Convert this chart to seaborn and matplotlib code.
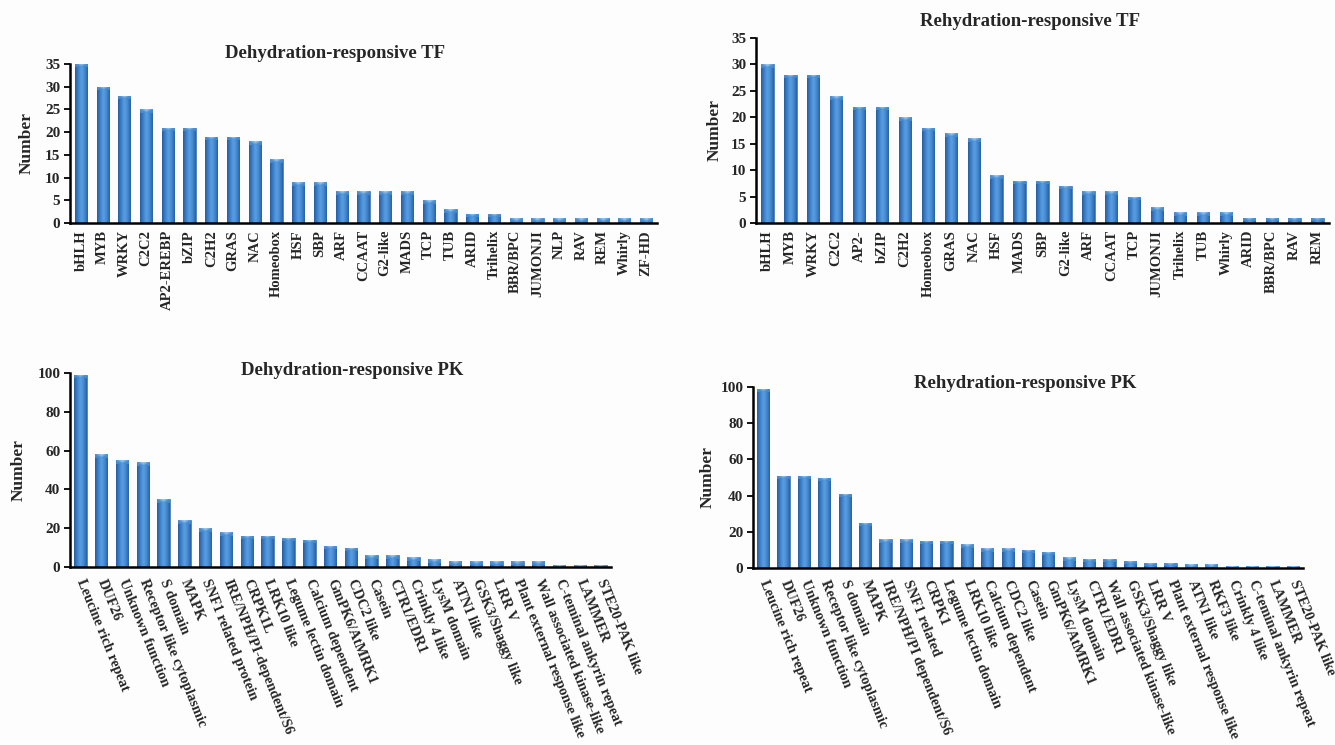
import numpy as np
import matplotlib
matplotlib.use("Agg")
import matplotlib.pyplot as plt
from matplotlib.colors import LinearSegmentedColormap
import seaborn as sns

# ---- data -------------------------------------------------------------
dehy_tf_names = ["bHLH", "MYB", "WRKY", "C2C2", "AP2-EREBP", "bZIP", "C2H2", "GRAS",
                 "NAC", "Homeobox", "HSF", "SBP", "ARF", "CCAAT", "G2-like", "MADS",
                 "TCP", "TUB", "ARID", "Trihelix", "BBR/BPC", "JUMONJI", "NLP", "RAV",
                 "REM", "Whirly", "ZF-HD"]
dehy_tf_counts = [35, 30, 28, 25, 21, 21, 19, 19, 18, 14, 9, 9, 7, 7, 7, 7,
                  5, 3, 2, 2, 1, 1, 1, 1, 1, 1, 1]

rehy_tf_names = ["bHLH", "MYB", "WRKY", "C2C2", "AP2-", "bZIP", "C2H2", "Homeobox",
                 "GRAS", "NAC", "HSF", "MADS", "SBP", "G2-like", "ARF", "CCAAT", "TCP",
                 "JUMONJI", "Trihelix", "TUB", "Whirly", "ARID", "BBR/BPC", "RAV", "REM"]
rehy_tf_counts = [30, 28, 28, 24, 22, 22, 20, 18, 17, 16, 9, 8, 8, 7, 6, 6, 5,
                  3, 2, 2, 2, 1, 1, 1, 1]

dehy_pk_names = ["Leucine rich repeat", "DUF26", "Unknown function",
                 "Receptor like cytoplasmic", "S domain", "MAPK", "SNF1 related protein",
                 "IRE/NPH/PI-dependent/S6", "CRPK1L", "LRK10 like", "Legume lectin domain",
                 "Calcium dependent", "GmPK6/AtMRK1", "CDC2 like", "Casein", "CTR1/EDR1",
                 "Crinkly 4 like", "LysM domain", "ATN1 like", "GSK3/Shaggy like", "LRR V",
                 "Plant external response like", "Wall associated kinase-like",
                 "C-teminal ankyrin repeat", "LAMMER", "STE20-PAK like"]
dehy_pk_counts = [99, 58, 55, 54, 35, 24, 20, 18, 16, 16, 15, 14, 11, 10, 6, 6,
                  5, 4, 3, 3, 3, 3, 3, 1, 1, 1]

rehy_pk_names = ["Leucine rich repeat", "DUF26", "Unknown function",
                 "Receptor like cytoplasmic", "S domain", "MAPK",
                 "IRE/NPH/PI dependent/S6", "SNF1 related", "CRPK1", "Legume lectin domain",
                 "LRK10 like", "Calcium dependent", "CDC2 like", "Casein", "GmPK6/AtMRK1",
                 "LysM domain", "CTR1/EDR1", "Wall associated kinase-like",
                 "GSK3/Shaggy like", "LRR V", "Plant external response like", "ATN1 like",
                 "RKF3 like", "Crinkly 4 like", "C-teminal ankyrin repeat", "LAMMER",
                 "STE20-PAK like"]
rehy_pk_counts = [99, 51, 51, 50, 41, 25, 16, 16, 15, 15, 13, 11, 11, 10, 9, 6, 5, 5,
                  4, 3, 3, 2, 2, 1, 1, 1, 1]

# ---- style ------------------------------------------------------------
sns.set_theme(style="white")
plt.rcParams["font.family"] = ["Liberation Serif", "DejaVu Serif"]
plt.rcParams["font.weight"] = "bold"

W, H = 1335, 745
fig = plt.figure(figsize=(W / 100, H / 100), dpi=100)
fig.patch.set_facecolor("#fdfdfd")

bar_cmap = LinearSegmentedColormap.from_list(
    "cyl", ["#265d9d", "#3d81c9", "#5ba0e3", "#4489cf", "#295fa2"])
cap_cmap = LinearSegmentedColormap.from_list("cap", ["#4489cf", "#a3d3f6"])


def px_axes(left, right, top, bottom):
    return fig.add_axes([left / W, 1 - bottom / H, (right - left) / W, (bottom - top) / H])


def shade_bars(ax, ymax):
    """Paint each bar with a cylinder-like horizontal gradient and a light top cap."""
    grad = np.linspace(0, 1, 64)[None, :]
    ax_h_px = ax.get_window_extent().height
    cap = 3.5 * ymax / ax_h_px
    for p in list(ax.patches):
        x0, y0 = p.get_x(), p.get_y()
        x1, y1 = x0 + p.get_width(), y0 + p.get_height()
        im = ax.imshow(grad, extent=[x0, x1, y0, y1], aspect="auto", cmap=bar_cmap,
                       origin="lower", zorder=p.get_zorder() + 0.1, interpolation="bicubic")
        im.set_clip_path(p)
        xs = np.linspace(-1, 1, 32)
        yy = np.linspace(0, 1, 8)[:, None]
        v = np.clip(1 - np.abs(xs)[None, :] * 0.9 - (1 - yy) * 0.8, 0, 1)
        cbot = max(y0, y1 - cap)
        im2 = ax.imshow(v, extent=[x0, x1, cbot, y1], aspect="auto", cmap=cap_cmap,
                        origin="lower", zorder=p.get_zorder() + 0.2, interpolation="bicubic")
        im2.set_clip_path(p)


def panel(box, names, counts, ymax, ystep, rot, bar_w, title, title_xy, ylab_x):
    ax = px_axes(*box)
    ax.set_facecolor("none")
    sns.barplot(x=names, y=counts, ax=ax, color="#3f82c9", width=bar_w,
                edgecolor="#2a5f9e", linewidth=0.4, saturation=1)
    ax.set_xlim(-0.5, len(names) - 0.5)
    ax.set_ylim(0, ymax)
    shade_bars(ax, ymax)
    ax.set_xlim(-0.5, len(names) - 0.5)
    ax.set_ylim(0, ymax)
    ax.set_yticks(np.arange(0, ymax + 0.1, ystep))
    ax.tick_params(axis="y", direction="out", length=4, width=1.3, color="black",
                   labelsize=11, pad=3, left=True)
    ax.tick_params(axis="x", length=0, pad=5)
    for lbl in ax.get_yticklabels():
        lbl.set_fontweight("bold")
    ax.set_xticks(range(len(names)))
    if rot == 90:
        ax.set_xticklabels(names, rotation=90, fontsize=10.5, fontweight="bold",
                           ha="center", va="top")
    else:
        ax.set_xticklabels(names, rotation=rot, fontsize=10.4, fontweight="bold",
                           ha="left", va="center", rotation_mode="anchor")
        ax.tick_params(axis="x", pad=9)
    for side in ("top", "right"):
        ax.spines[side].set_visible(False)
    for side in ("left", "bottom"):
        ax.spines[side].set_visible(True)
        ax.spines[side].set_color("black")
        ax.spines[side].set_linewidth(1.8)
    ax.set_xlabel("")
    ax.set_ylabel("")
    # panel title and axis label
    fig.text(title_xy[0] / W, 1 - title_xy[1] / H, title, ha="center", va="center",
             fontsize=13.5, fontweight="bold")
    bb = ax.get_position()
    fig.text(ylab_x / W, (bb.y0 + bb.y1) / 2, "Number", rotation=90, ha="center",
             va="center", fontsize=12.5, fontweight="bold")
    return ax


panel((70, 657, 64, 223), dehy_tf_names, dehy_tf_counts, 35, 5, 90, 0.56,
      "Dehydration-responsive TF", (335, 53), 27)
panel((756, 1329, 38, 223), rehy_tf_names, rehy_tf_counts, 35, 5, 90, 0.54,
      "Rehydration-responsive TF", (1030, 21), 715)
panel((70, 611, 373, 567), dehy_pk_names, dehy_pk_counts, 100, 20, -68, 0.6,
      "Dehydration-responsive PK", (352, 371), 19)
panel((753, 1303, 387, 568), rehy_pk_names, rehy_pk_counts, 100, 20, -68, 0.6,
      "Rehydration-responsive PK", (1025, 383), 708)

fig.savefig("out.png", dpi=100, facecolor=fig.get_facecolor())
